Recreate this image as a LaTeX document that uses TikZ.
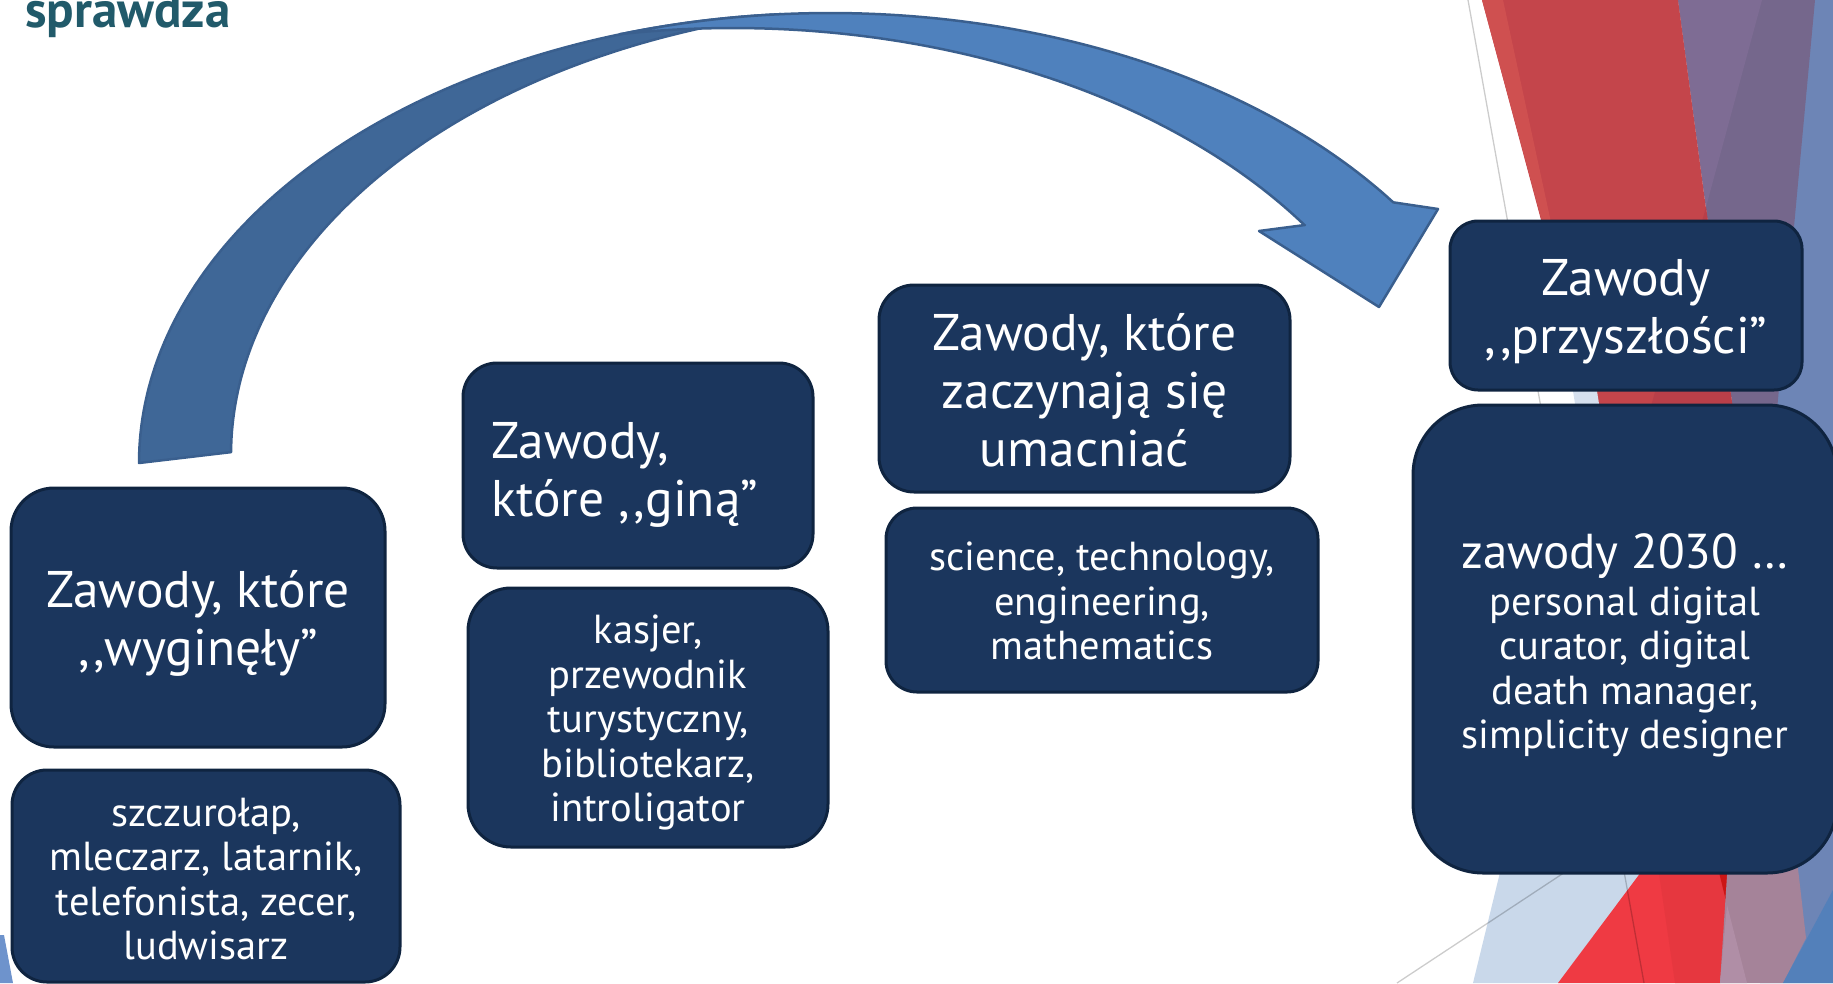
\documentclass[tikz,border=0pt]{standalone}
\usepackage{fontspec}
\setmainfont{PT Sans}
\definecolor{boxfill}{HTML}{1B365D}
\definecolor{boxedge}{HTML}{0F2440}
\definecolor{arrlight}{HTML}{4F81BD}
\definecolor{arrdark}{HTML}{3F6797}
\definecolor{arredge}{HTML}{3A5F8E}
\definecolor{titlecol}{HTML}{215A6A}
\definecolor{slate}{HTML}{6D85B6}
\definecolor{purp}{HTML}{75678C}
\definecolor{purpl}{HTML}{7E6C94}
\definecolor{redtop}{HTML}{C4454B}
\definecolor{redtopl}{HTML}{CF5050}
\definecolor{reddk}{HTML}{B93F49}
\definecolor{ltblue}{HTML}{C9D8EA}
\definecolor{ltblue2}{HTML}{D6E0EE}
\definecolor{redbr}{HTML}{EF3A43}
\definecolor{redbr2}{HTML}{E6373F}
\definecolor{reddeep}{HTML}{CC1515}
\definecolor{mauve}{HTML}{A58399}
\definecolor{mauvel}{HTML}{B08EA6}
\definecolor{bluebr}{HTML}{5380BA}
\definecolor{leftblue}{HTML}{6E93CC}
\newcommand\hsz{\fontsize{51.5}{58}\selectfont}
\newcommand\hszb{\fontsize{49}{58}\selectfont}
\newcommand\ssz{\fontsize{40.5}{44.5}\selectfont}
\tikzset{
  pbox/.style={rectangle, draw=boxedge, fill=boxfill, line width=3pt, inner sep=0pt},
  ptext/.style={text=white, align=center, inner sep=0pt},
  bgline/.style={draw=black, draw opacity=0.2, line width=1.3pt},
  arrband/.style={draw=arredge, line width=2.5pt, line join=round}
}
\begin{document}
\begin{tikzpicture}[x=1pt,y=-1pt]
\useasboundingbox (0,0) rectangle (1833,983);
\clip (0,0) rectangle (1833,983);
% ---------- background decoration (right edge) ----------
\fill[slate] (1762,0) -- (1833,0) -- (1833,983) -- (1760,983) -- (1760,400) -- cycle;
\fill[purp] (1678,0) -- (1815,0) -- (1777,410) -- (1733,410) -- cycle;
\fill[purpl] (1678,0) -- (1762,0) -- (1706,207) -- cycle;
\fill[redtop] (1482,0) -- (1678,0) -- (1733,410) -- (1592,410) -- cycle;
\fill[reddk] (1706,207) -- (1733,410) -- (1650,410) -- cycle;
\fill[redtopl] (1482,0) -- (1503,0) -- (1585,380) -- cycle;
\fill[ltblue2] (1572,385) -- (1596,385) -- (1600,410) -- (1576,410) -- cycle;
\fill[ltblue] (1503,860) -- (1665,860) -- (1620,983) -- (1473,983) -- cycle;
\fill[redbr] (1650,860) -- (1732,860) -- (1720,983) -- (1558,983) -- cycle;
\fill[redbr2] (1657,860) -- (1732,860) -- (1720,983) -- (1675,983) -- cycle;
\fill[reddeep] (1716,860) -- (1732,860) -- (1727,905) -- cycle;
\fill[mauve] (1728,860) -- (1797,860) -- (1806,938) -- (1783,983) -- (1720,983) -- cycle;
\fill[mauvel] (1727,905) -- (1747,983) -- (1720,983) -- cycle;
\fill[bluebr] (1833,890) -- (1833,983) -- (1783,983) -- cycle;
\fill[leftblue] (0,935) -- (4,935) -- (13,983) -- (0,983) -- cycle;
\draw[bgline] (1468,0) -- (1644,983);
\draw[bgline] (1397,983) -- (1700,783);
% ---------- curved arrow ----------
\filldraw[arrband, fill=arrdark]
  plot[domain=180:94.1, samples=90, variable=\t] ({830+691*cos(\t)},{463-450*sin(\t)})
  -- plot[domain=101.8:179.7, samples=90, variable=\t] ({922+691*cos(\t)},{454.5-450*sin(\t)})
  -- cycle;
\filldraw[arrband, fill=arrlight]
  plot[domain=107.7:35.4, samples=90, variable=\t] ({830+691*cos(\t)},{463-450*sin(\t)})
  -- (1438,209) -- (1379,307) -- (1259,231) -- (1305,225)
  -- plot[domain=34.2:99.4, samples=90, variable=\t] ({733+691*cos(\t)},{478-450*sin(\t)})
  -- cycle;
% ---------- boxes ----------
\node[pbox, rounded corners=43pt, minimum width=374pt, minimum height=259pt] (a1) at (198,617.5) {};
\node[pbox, rounded corners=35pt, minimum width=388pt, minimum height=212pt] (a2) at (206,876) {};
\node[pbox, rounded corners=34pt, minimum width=350pt, minimum height=205pt] (b1) at (638,465.5) {};
\node[pbox, rounded corners=43pt, minimum width=360pt, minimum height=259pt] (b2) at (648,717.5) {};
\node[pbox, rounded corners=35pt, minimum width=411pt, minimum height=207pt] (c1) at (1084.5,388.5) {};
\node[pbox, rounded corners=31pt, minimum width=432pt, minimum height=184pt] (c2) at (1102,600) {};
\node[pbox, rounded corners=28pt, minimum width=352pt, minimum height=169pt] (d1) at (1626,305.5) {};
\node[pbox, rounded corners=70pt, minimum width=424pt, minimum height=468pt] (d2) at (1625,639) {};
% ---------- texts ----------
\node[ptext, font=\hsz, yshift=-6pt] (a1t) at (a1) {Zawody, które\\,\kern4pt,wyginęły”};
\node[ptext, font=\ssz, yshift=-3pt] (a2t) at (a2) {szczurołap,\\mleczarz, latarnik,\\telefonista, zecer,\\ludwisarz};
\node[ptext, font=\hsz, align=left, anchor=west, xshift=30pt, yshift=-9pt] (b1t) at (b1.west) {Zawody,\\które ,\kern4pt,giną”};
\node[ptext, font=\ssz, yshift=-5pt] (b2t) at (b2) {kasjer,\\przewodnik\\turystyczny,\\bibliotekarz,\\introligator};
\node[ptext, font=\hsz, yshift=-2pt] (c1t) at (c1) {Zawody, które\\zaczynają się\\umacniać};
\node[ptext, font=\ssz, yshift=-1pt] (c2t) at (c2) {science, technology,\\engineering,\\mathematics};
\node[ptext, font=\hsz, yshift=-6pt] (d1t) at (d1) {Zawody\\,\kern4pt,przyszłości”};
\node[ptext, font=\hszb, anchor=base] (d2h) at (1625,568) {zawody 2030 …};
\node[ptext, font=\ssz] (d2s) at (1625,672) {personal digital\\curator, digital\\death manager,\\simplicity designer};
% ---------- title fragment ----------
\node[text=titlecol, inner sep=0pt, anchor=base west, font=\fontsize{51}{58}\selectfont\bfseries] (title) at (25,27) {sprawdza};
\end{tikzpicture}
\end{document}
